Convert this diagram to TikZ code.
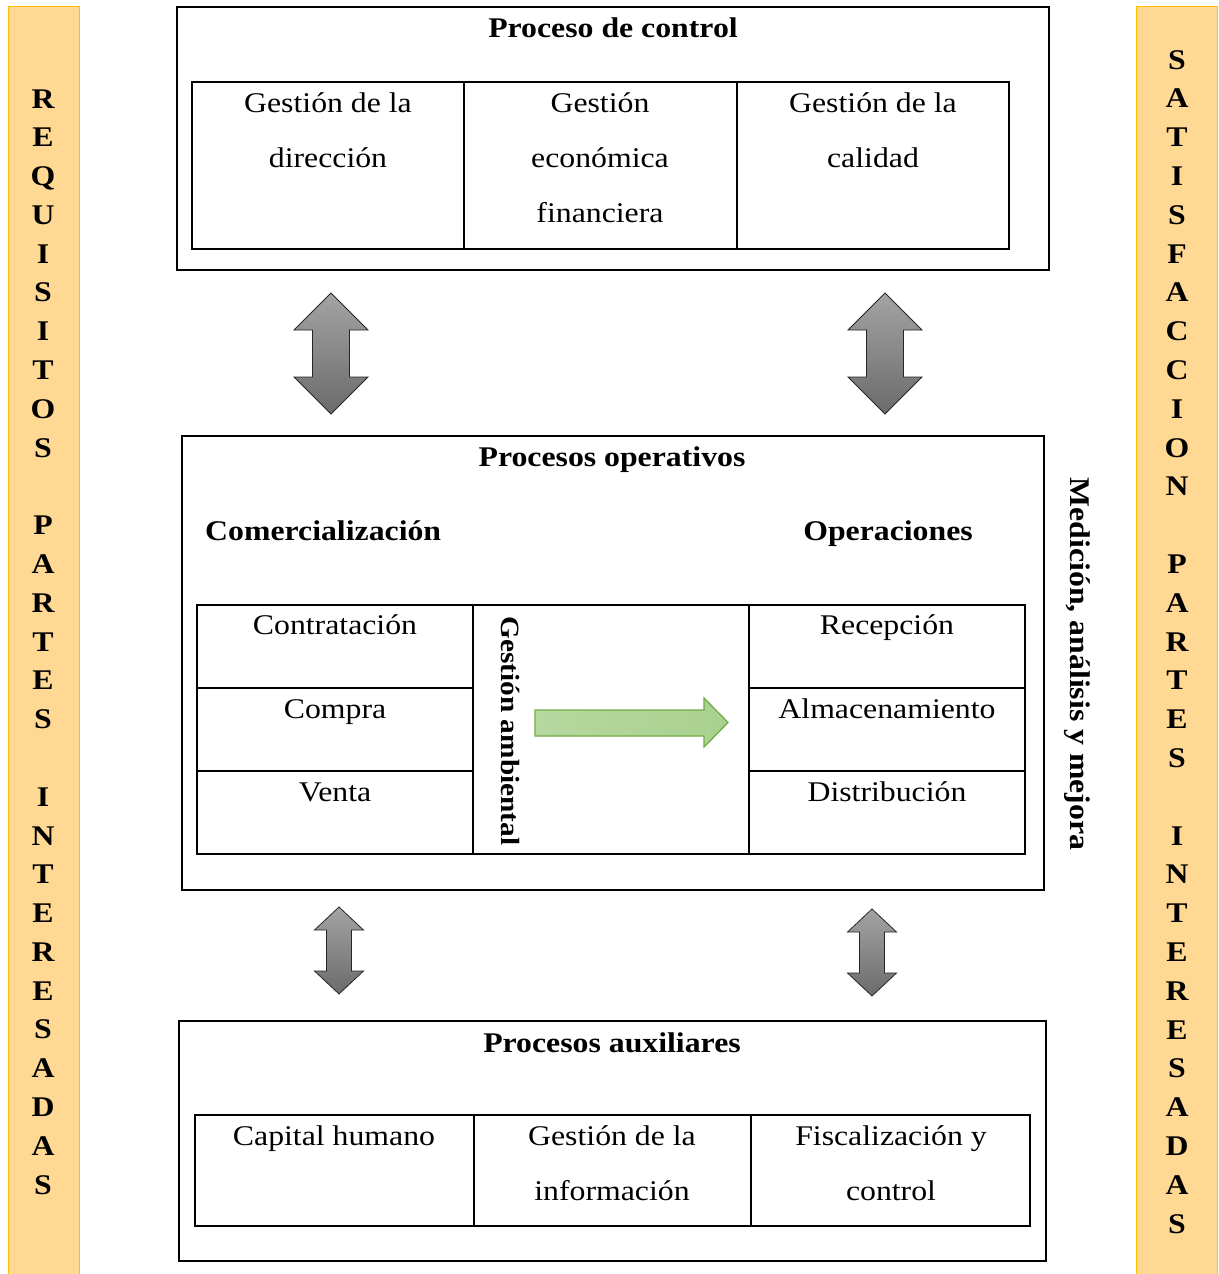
\documentclass[tikz,border=0pt]{standalone}
\usepackage{fontspec}
\setmainfont{Liberation Serif}[FakeStretch=1.115]
\usetikzlibrary{calc}
\definecolor{barfill}{HTML}{FFD993}
\definecolor{barline}{HTML}{FFC000}
\definecolor{grnfill}{HTML}{A9D18E}
\definecolor{grnline}{HTML}{70AD47}
\newcommand\dblarr[7]{% name, cx, top, bottom, headhalf, shafthalf, headlen
  \draw[arrowshape] (#2,#3) -- (#2+#5,#3+#7) -- (#2+#6,#3+#7) -- (#2+#6,#4-#7) -- (#2+#5,#4-#7)
     -- (#2,#4) -- (#2-#5,#4-#7) -- (#2-#6,#4-#7) -- (#2-#6,#3+#7) -- (#2-#5,#3+#7) -- cycle;
  \coordinate (#1) at (#2,{(#3+#4)/2});
}
\begin{document}
\begin{tikzpicture}[x=1pt,y=-1pt,
  txt/.style={font=\fontsize{28.5}{32}\selectfont, anchor=base, inner sep=0pt},
  ttl/.style={font=\fontsize{28.5}{32}\selectfont\bfseries, anchor=base, inner sep=0pt},
  letter/.style={font=\fontsize{28.5}{32}\selectfont\bfseries, anchor=base, inner sep=0pt},
  box/.style={draw=black, line width=1.8pt},
  cell/.style={draw=black, line width=1.8pt},
  bar/.style={fill=barfill, draw=barline, line width=1pt},
  arrowshape/.style={draw=black!85, line width=0.8pt, top color=black!36, bottom color=black!58},
]
\useasboundingbox (0,0) rectangle (1218,1274);
\clip (0,0) rectangle (1218,1274);

% side bars
\draw[bar] (8,6) rectangle (79,1290);
\draw[bar] (1136,6) rectangle (1217,1290);
\foreach \l [count=\i from 0] in {R,E,Q,U,I,S,I,T,O,S,{},P,A,R,T,E,S,{},I,N,T,E,R,E,S,A,D,A,S}
  \node[letter] (L\i) at (43,{98+38.79*\i+10}) {\l};
\foreach \l [count=\i from 0] in {S,A,T,I,S,F,A,C,C,I,O,N,{},P,A,R,T,E,S,{},I,N,T,E,R,E,S,A,D,A,S}
  \node[letter] (R\i) at (1177,{59+38.8*\i+10}) {\l};

% ---------- Proceso de control ----------
\draw[box] (177,7) rectangle (1049,270);
\node[ttl] (tctrl) at (613,37) {Proceso de control};
\draw[cell] (192,82) rectangle (464,249);
\draw[cell] (464,82) rectangle (737,249);
\draw[cell] (737,82) rectangle (1009,249);
\node[txt] (c1a) at (328,112.5) {Gestión de la};
\node[txt] (c1b) at (328,167.5) {dirección};
\node[txt] (c2a) at (600,112.5) {Gestión};
\node[txt] (c2b) at (600,167.5) {económica};
\node[txt] (c2c) at (600,222.5) {financiera};
\node[txt] (c3a) at (873,112.5) {Gestión de la};
\node[txt] (c3b) at (873,167.5) {calidad};

% arrows top
\dblarr{a1}{331}{293}{414}{37}{18.5}{37}
\dblarr{a2}{885}{293}{414}{37}{18.5}{37}

% ---------- Procesos operativos ----------
\draw[box] (182,436) rectangle (1044,890);
\node[ttl] (topr) at (612,466) {Procesos operativos};
\node[ttl, anchor=base west] (tcom) at (205,540) {Comercialización};
\node[ttl] (tope) at (888,540) {Operaciones};
\foreach \ya/\yb in {605/688,688/771,771/854}{
  \draw[cell] (197,\ya) rectangle (473,\yb);
  \draw[cell] (749,\ya) rectangle (1025,\yb);
}
\draw[cell] (473,605) rectangle (749,854);
\node[txt] (o1) at (335,634.5) {Contratación};
\node[txt] (o2) at (335,718.5) {Compra};
\node[txt] (o3) at (335,801.5) {Venta};
\node[txt] (o4) at (887,634.5) {Recepción};
\node[txt] (o5) at (887,718.5) {Almacenamiento};
\node[txt] (o6) at (887,801.5) {Distribución};
\node[font=\fontsize{26.3}{30}\selectfont\bfseries, rotate=-90, inner sep=0pt] (gamb) at (511,731) {Gestión ambiental};
\draw[draw=grnline, line width=1.3pt, left color=grnfill!85, right color=grnfill]
  (535,710) -- (704,710) -- (704,698) -- (728,722.5) -- (704,747) -- (704,736) -- (535,736) -- cycle;
\node[font=\fontsize{28.5}{32}\selectfont\bfseries, rotate=-90, inner sep=0pt] (med) at (1077,664) {Medición, análisis y mejora};

% arrows bottom
\dblarr{a3}{339}{907}{994}{24.5}{12.5}{23}
\dblarr{a4}{872}{909}{996}{24.5}{12.5}{23}

% ---------- Procesos auxiliares ----------
\draw[box] (179,1021) rectangle (1046,1261);
\node[ttl] (taux) at (612,1052) {Procesos auxiliares};
\draw[cell] (195,1115) rectangle (474,1226);
\draw[cell] (474,1115) rectangle (751,1226);
\draw[cell] (751,1115) rectangle (1030,1226);
\node[txt] (x1) at (334,1145.5) {Capital humano};
\node[txt] (x2a) at (612,1145.5) {Gestión de la};
\node[txt] (x2b) at (612,1200.5) {información};
\node[txt] (x3a) at (891,1145.5) {Fiscalización y};
\node[txt] (x3b) at (891,1200.5) {control};
\end{tikzpicture}
\end{document}
